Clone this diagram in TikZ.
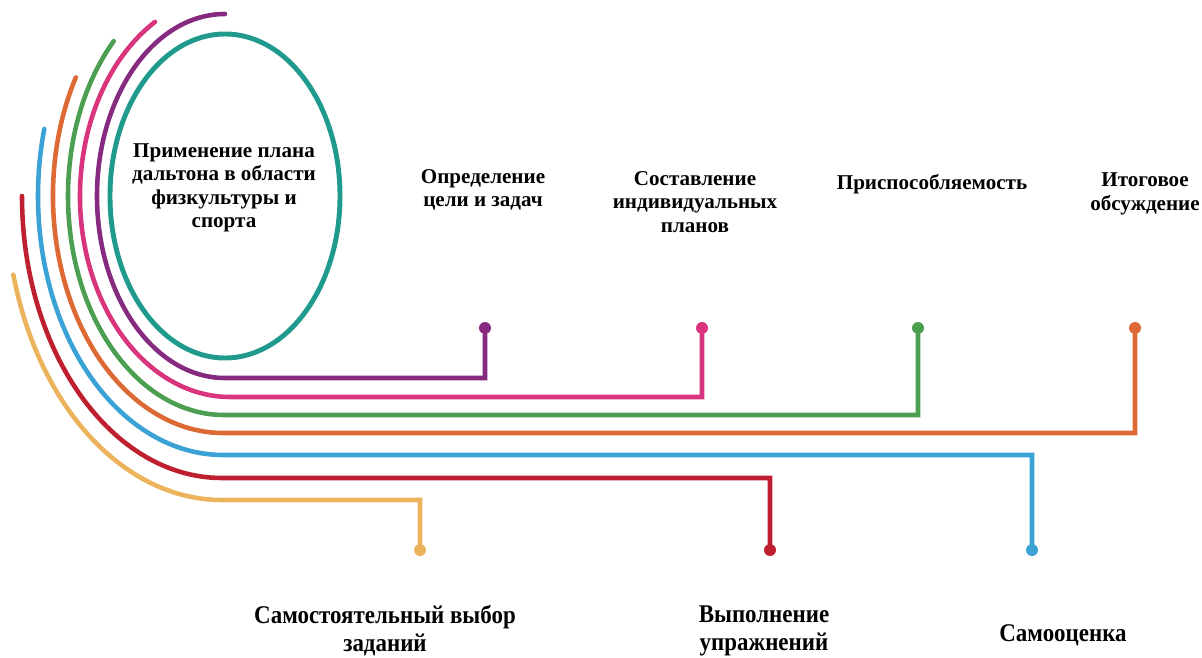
\documentclass[tikz,border=0pt]{standalone}
\usepackage{fontspec}
\setmainfont{Liberation Serif}
\newfontfamily\lowfont{Liberation Serif}[FakeStretch=0.9]
\usepackage{xcolor}
\usetikzlibrary{positioning}
\definecolor{hoop_teal}{HTML}{1F9A8C}
\definecolor{strand_purple}{HTML}{862A80}
\definecolor{strand_pink}{HTML}{D9357F}
\definecolor{strand_green}{HTML}{4C9E50}
\definecolor{strand_orange}{HTML}{DD6A34}
\definecolor{strand_blue}{HTML}{3AA2D4}
\definecolor{strand_red}{HTML}{BF2030}
\definecolor{strand_yellow}{HTML}{EBB45C}

\begin{document}
\begin{tikzpicture}[
    % --- Global Settings ---
    % Work in pixel-like units, y pointing down
    x=0.02cm, y=-0.02cm,
    % Font for all labels in the picture
    every node/.style={font=\bfseries\fontsize{12}{13.4}\selectfont, align=center}
  ]

  % --- Style Definitions ---
  \tikzset{
    % Big ring in the upper left
    hoop/.style={draw=hoop_teal, line width=2.8pt},
    % Coloured strands running out of the ring
    strand/.style={line width=2.6pt, line cap=round},
    % Small dot at the end of each strand
    knot/.style={circle, inner sep=0pt, minimum size=0.24cm},
    % Labels under the strands (taller, narrower letters)
    lowlabel/.style={font=\lowfont\bfseries\fontsize{14.5}{15.9}\selectfont}
  }

  \useasboundingbox (0,0) rectangle (1202,658);

  % --- Ring and Title ---
  \draw[hoop] (225,196) ellipse [x radius=115, y radius=162];
  \node (title) at (224,188) {Применение плана\\дальтона в области\\физкультуры и\\спорта};

  % --- End Dots ---
  \node[knot, fill=strand_purple] (dot1) at (485,328) {};
  \node[knot, fill=strand_pink]   (dot2) at (702,328) {};
  \node[knot, fill=strand_green]  (dot3) at (918,328) {};
  \node[knot, fill=strand_orange] (dot4) at (1135,328) {};
  \node[knot, fill=strand_blue]   (dot5) at (1032,550) {};
  \node[knot, fill=strand_red]    (dot6) at (770,550) {};
  \node[knot, fill=strand_yellow] (dot7) at (420,550) {};

  % --- Upper Labels ---
  \node (goals)  at (483,190) {Определение\\цели и задач};
  \node (plans)  at (695,202) {Составление\\индивидуальных\\планов};
  \node (adapt)  at (932,184) {Приспособляемость};
  \node (review) at (1145,194) {Итоговое\\обсуждение};

  % --- Lower Labels ---
  \node[lowlabel] (choice)   at (385,631) {Самостоятельный выбор\\заданий};
  \node[lowlabel] (exercise) at (764,631) {Выполнение\\упражнений};
  \node[lowlabel] (selfrate) at (1063,635) {Самооценка};

  % --- Strands ---
  % Each strand bends round the ring, runs right, then turns to its dot
  \draw[strand, strand_purple] ([shift={(225,196)}]270:128 and 182)
    arc[start angle=270, end angle=90, x radius=128, y radius=182] -| (dot1);
  \draw[strand, strand_pink] ([shift={(230,196)}]240:150 and 201)
    arc[start angle=240, end angle=90, x radius=150, y radius=201] -| (dot2);
  \draw[strand, strand_green] ([shift={(224,196)}]225:156 and 219)
    arc[start angle=225, end angle=90, x radius=156, y radius=219] -| (dot3);
  \draw[strand, strand_orange] ([shift={(223,196)}]210:170 and 237)
    arc[start angle=210, end angle=90, x radius=170, y radius=237] -| (dot4);
  \draw[strand, strand_blue] ([shift={(223,196)}]195:185 and 259)
    arc[start angle=195, end angle=90, x radius=185, y radius=259] -| (dot5);
  \draw[strand, strand_red] ([shift={(222,196)}]180:200 and 282)
    arc[start angle=180, end angle=90, x radius=200, y radius=282] -| (dot6);
  \draw[strand, strand_yellow] ([shift={(222,196)}]165:216 and 304)
    arc[start angle=165, end angle=90, x radius=216, y radius=304] -| (dot7);

\end{tikzpicture}
\end{document}
